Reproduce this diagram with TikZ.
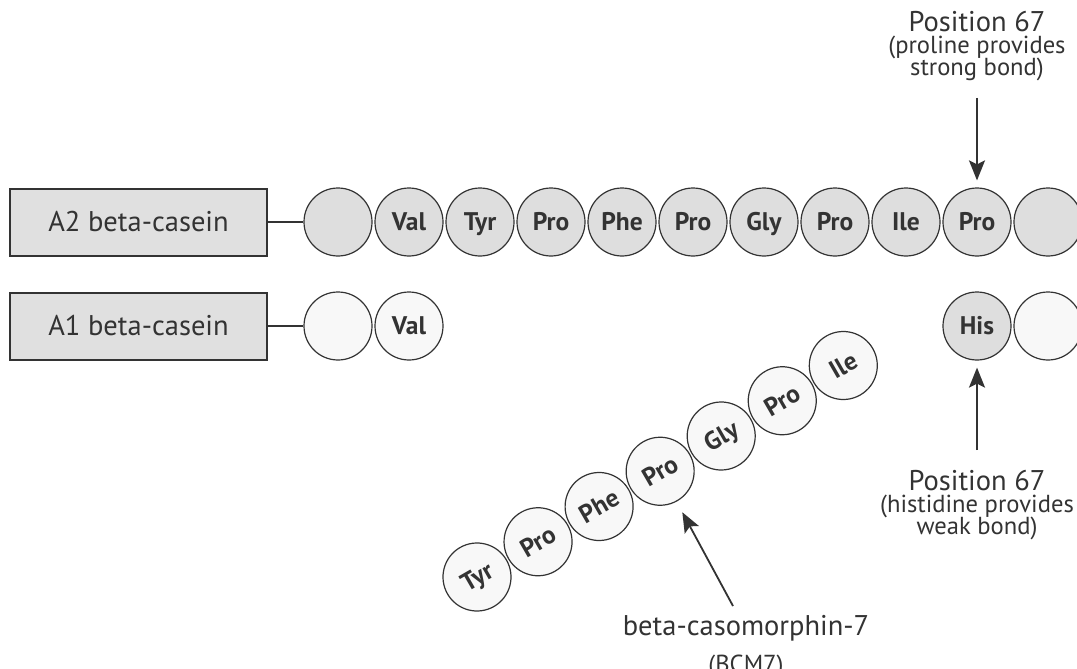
\documentclass[tikz,border=0pt]{standalone}
\usepackage{fontspec}
\setmainfont{PT Sans}
\usetikzlibrary{arrows.meta}
\definecolor{ink}{HTML}{333333}
\definecolor{shade}{HTML}{DEDEDE}
\definecolor{pale}{HTML}{F8F8F8}
\definecolor{boxfill}{HTML}{E0E0E0}

\begin{document}
\begin{tikzpicture}[x=1pt,y=-1pt,
  every node/.style={text=ink},
  residue/.style={circle, draw=ink, line width=1.2pt, minimum size=68pt, inner sep=0pt,
    font=\fontsize{25.5}{25}\selectfont\bfseries, text height=17pt, text depth=0pt},
  dark/.style={residue, fill=shade},
  light/.style={residue, fill=pale},
  variant/.style={draw=ink, line width=2pt, fill=boxfill, minimum width=257pt,
    minimum height=67pt, inner sep=0pt, font=\fontsize{28.5}{30}\selectfont,
    text height=19.5pt, text depth=0pt},
  link/.style={draw=ink, line width=2pt},
  pointer/.style={draw=ink, line width=1.8pt, -{Stealth[length=20pt,width=16pt,inset=4pt]}},
  big/.style={font=\fontsize{28.5}{30}\selectfont, anchor=base, inner sep=0pt},
  small/.style={font=\fontsize{24.6}{26}\selectfont, anchor=base, inner sep=0pt}
]
\clip (0,0) rectangle (1077,669);
\fill[white] (0,0) rectangle (1077,669);

% A2 variant: full chain with proline at position 67
\node[variant] (a2) at (138.5,222) {A2 beta-casein};
\foreach \t [count=\i from 0] in {{},Val,Tyr,Pro,Phe,Pro,Gly,Pro,Ile,Pro,{}}
  \node[dark] (top\i) at ({338+71*\i},222) {\t};
\draw[link] (a2.east) -- (top0.west);

% A1 variant: histidine at position 67, BCM7 split off
\node[variant] (a1) at (138.5,326) {A1 beta-casein};
\node[light] (bot0) at (338,326) {};
\node[light] (bot1) at (409,326) {Val};
\node[dark]  (his)  at (977,326) {His};
\node[light] (bot3) at (1048,326) {};
\draw[link] (a1.east) -- (bot0.west);

% released heptapeptide
\foreach \t [count=\i from 0] in {Tyr,Pro,Phe,Pro,Gly,Pro,Ile}
  \node[light, rotate=30] (bcm\i) at ({477+61.05*\i},{577-35.25*\i}) {\t};

% callouts
\node[big]   (strongA) at (977,32) {Position 67};
\node[small] (strongB) at (977,54) {(proline provides};
\node[small] (strongC) at (977,76) {strong bond)};
\coordinate (strongtail) at (977,98);
\draw[pointer, shorten >=7pt] (strongtail) -- (top9);

\node[big]   (weakA) at (977,490) {Position 67};
\node[small] (weakB) at (977,512) {(histidine provides};
\node[small] (weakC) at (977,534) {weak bond)};
\coordinate (weaktail) at (977,450);
\draw[pointer, shorten >=7pt] (weaktail) -- (his);

\node[big]   (bcmA) at (746,635) {beta-casomorphin-7};
\node[small] (bcmB) at (746,672) {(BCM7)};
\coordinate (bcmtail) at (733,606);
\draw[pointer, shorten >=12pt] (bcmtail) -- (bcm3);
\end{tikzpicture}
\end{document}
